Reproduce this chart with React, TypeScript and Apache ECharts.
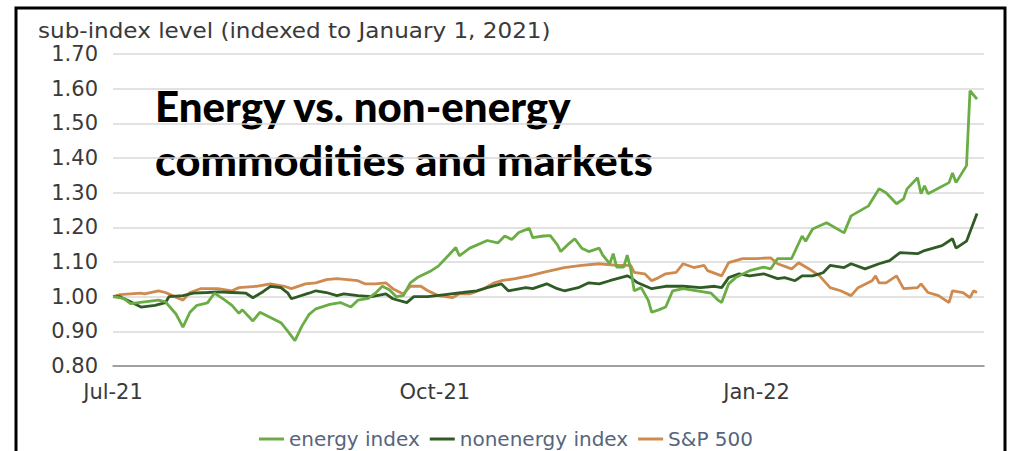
import React, { useEffect, useRef } from "react";
import * as echarts from "echarts";

// x values: days since 2021-07-01
const energyDays = [0,3,5,9,13,15,18,20,22,24,27,29,32,34,36,37,40,42,45,48,50,52,54,56,58,62,65,68,70,73,75,77,79,81,83,85,87,91,93,96,98,99,102,107,110,112,114,116,119,120,123,125,127,128,130,132,134,136,139,140,142,143,144,146,147,148,149,151,153,154,156,158,160,163,167,171,173,174,176,178,182,186,188,190,194,197,198,200,204,209,211,216,219,221,224,226,227,230,231,232,233,239,240,241,244,245,247];
const energyIndex = [1.000,0.995,0.980,0.985,0.990,0.985,0.950,0.912,0.955,0.975,0.982,1.010,0.990,0.975,0.952,0.962,0.930,0.955,0.940,0.925,0.900,0.873,0.915,0.948,0.965,0.978,0.983,0.970,0.990,0.995,1.010,1.030,1.020,1.000,1.003,1.040,1.055,1.075,1.088,1.120,1.142,1.118,1.140,1.162,1.155,1.175,1.165,1.185,1.197,1.170,1.175,1.176,1.150,1.130,1.150,1.167,1.140,1.130,1.140,1.120,1.095,1.124,1.085,1.085,1.120,1.080,1.017,1.026,0.990,0.955,0.962,0.970,1.017,1.023,1.017,1.010,0.990,0.983,1.037,1.055,1.075,1.085,1.080,1.110,1.110,1.175,1.160,1.195,1.213,1.184,1.233,1.262,1.311,1.300,1.268,1.282,1.311,1.343,1.297,1.320,1.297,1.329,1.357,1.329,1.378,1.594,1.570];

const nonenergyDays = [0,2,5,8,12,15,16,20,23,27,30,34,38,40,43,45,48,50,51,56,58,61,64,66,70,74,78,80,84,86,90,95,100,104,107,111,113,118,120,124,127,129,133,136,139,142,147,148,150,154,158,163,168,172,174,176,179,182,186,190,192,195,197,200,203,205,209,211,215,219,222,225,230,232,237,240,241,244,247];
const nonenergyIndex = [1.000,1.000,0.985,0.970,0.975,0.983,1.000,1.003,1.010,1.012,1.014,1.012,1.010,0.997,1.015,1.030,1.026,1.010,0.994,1.010,1.017,1.012,1.003,1.008,1.003,1.000,1.008,0.994,0.983,1.000,1.000,1.006,1.012,1.017,1.026,1.037,1.017,1.026,1.023,1.037,1.023,1.017,1.026,1.040,1.037,1.046,1.060,1.055,1.040,1.023,1.030,1.030,1.026,1.030,1.026,1.055,1.066,1.060,1.066,1.052,1.055,1.046,1.060,1.060,1.069,1.090,1.084,1.095,1.080,1.095,1.104,1.127,1.124,1.133,1.147,1.167,1.140,1.160,1.240];

const spDays = [0,2,8,9,13,15,17,20,22,25,30,34,36,41,45,49,51,55,58,61,64,70,72,75,78,80,83,85,88,90,93,97,99,102,106,109,111,115,119,123,129,134,139,144,148,149,152,154,156,158,161,163,166,169,170,174,176,180,184,188,190,194,196,199,202,205,208,211,213,217,218,219,221,224,226,230,231,233,236,239,240,243,245,246,247];
const sp500 = [1.000,1.006,1.010,1.008,1.017,1.012,1.003,0.990,1.012,1.023,1.023,1.017,1.026,1.030,1.037,1.030,1.023,1.037,1.040,1.049,1.052,1.046,1.037,1.037,1.040,1.023,1.008,1.030,1.030,1.017,1.003,0.997,1.008,1.008,1.023,1.040,1.046,1.052,1.060,1.070,1.084,1.090,1.095,1.090,1.090,1.070,1.066,1.046,1.055,1.066,1.070,1.095,1.084,1.090,1.075,1.060,1.098,1.110,1.110,1.112,1.095,1.080,1.098,1.080,1.060,1.026,1.017,1.003,1.026,1.046,1.060,1.040,1.040,1.060,1.023,1.026,1.037,1.012,1.003,0.983,1.017,1.012,0.997,1.017,1.012];

const seriesNames = ["energy index", "nonenergy index", "S&P 500"];
const seriesColors = ["#6aad45", "#2f5b24", "#cf8a4f"];
const xTickLabels: Record<number, string> = { 0: "Jul-21", 92: "Oct-21", 184: "Jan-22" };
const yAxisTitle = "sub-index level (indexed to January 1, 2021)";
const titleLines = ["Energy vs. non-energy", "commodities and markets"];

const AXIS_FONT = "DejaVu Sans";

export default function App() {
  const ref = useRef<HTMLDivElement>(null);
  useEffect(() => {
    if (!ref.current) return;
    const chart = echarts.init(ref.current, null, { renderer: "svg" });
    const pairs = (xs: number[], ys: number[]) => xs.map((x, i) => [x, ys[i]]);
    const datasets = [
      pairs(energyDays, energyIndex),
      pairs(nonenergyDays, nonenergyIndex),
      pairs(spDays, sp500),
    ];
    chart.setOption({
      animation: false,
      backgroundColor: "#ffffff",
      grid: { left: 113, right: 28, top: 54, bottom: 85 },
      xAxis: {
        type: "value",
        min: 0,
        max: 249,
        interval: 92,
        axisLine: { show: true, lineStyle: { color: "#8a8a8a", width: 1.5 } },
        axisTick: { show: false },
        splitLine: { show: false },
        axisLabel: {
          formatter: (v: number) => xTickLabels[Math.round(v)] ?? "",
          fontFamily: AXIS_FONT,
          fontSize: 21,
          color: "#3a3a3a",
          margin: 15,
          showMaxLabel: false,
        },
      },
      yAxis: {
        type: "value",
        min: 0.8,
        max: 1.7,
        interval: 0.1,
        axisLine: { show: false },
        axisTick: { show: false },
        splitLine: { lineStyle: { color: "#d9d9d9", width: 1.5 } },
        axisLabel: {
          formatter: (v: number) => v.toFixed(2),
          fontFamily: AXIS_FONT,
          fontSize: 21,
          color: "#3a3a3a",
          margin: 15,
        },
      },
      legend: {
        data: seriesNames,
        left: "center",
        top: 424,
        icon: "rect",
        itemWidth: 25,
        itemHeight: 3,
        itemGap: 10,
        textStyle: { fontFamily: AXIS_FONT, fontSize: 20, color: "#56657d" },
      },
      series: seriesNames.map((name, i) => ({
        name,
        type: "line",
        data: datasets[i],
        showSymbol: false,
        symbol: "none",
        lineStyle: { color: seriesColors[i], width: 2.8 },
        itemStyle: { color: seriesColors[i] },
        z: 3 - i,
      })),
      graphic: [
        {
          type: "rect",
          shape: { x: 16, y: 8, width: 989, height: 470 },
          style: { fill: "none", stroke: "#000000", lineWidth: 3 },
          silent: true,
        },
        {
          type: "text",
          x: 38,
          y: 31,
          scaleX: 1.1,
          style: {
            text: yAxisTitle,
            fontFamily: AXIS_FONT,
            fontSize: 21,
            fill: "#3a3a3a",
            verticalAlign: "middle",
          },
        },
        {
          type: "text",
          x: 155,
          y: 106,
          style: {
            text: titleLines[0],
            fontFamily: "Lato",
            fontWeight: 900,
            fontSize: 42,
            fill: "#000000",
            verticalAlign: "middle",
          },
        },
        {
          type: "text",
          x: 155,
          y: 160,
          scaleX: 1.03,
          style: {
            text: titleLines[1],
            fontFamily: "Lato",
            fontWeight: 900,
            fontSize: 42,
            fill: "#000000",
            verticalAlign: "middle",
          },
        },
      ],
    });
    return () => chart.dispose();
  }, []);
  return (
    <div
      ref={ref}
      style={{ position: "fixed", left: 0, top: 0, width: 1012, height: 451 }}
    />
  );
}
